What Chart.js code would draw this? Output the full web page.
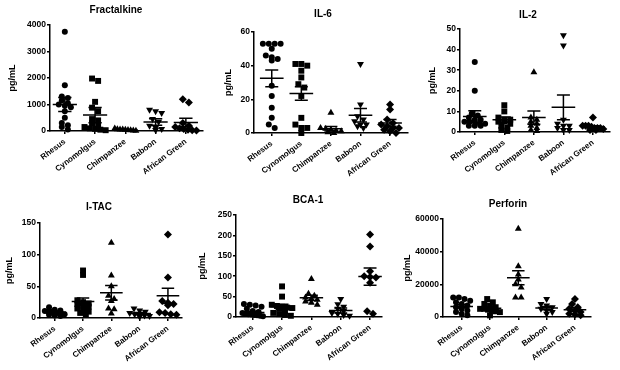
<!DOCTYPE html>
<html>
<head>
<meta charset="utf-8">
<script src="https://cdn.jsdelivr.net/npm/chart.js@4.4.1/dist/chart.umd.min.js"></script>
<style>
  html, body { margin: 0; padding: 0; background: #fff; width: 620px; height: 370px; overflow: hidden; position: relative; }
  canvas { position: absolute; }
</style>
</head>
<body>
<canvas id="c1"></canvas>
<canvas id="c2"></canvas>
<canvas id="c3"></canvas>
<canvas id="c4"></canvas>
<canvas id="c5"></canvas>
<canvas id="c6"></canvas>
<script>
const categories = ['Rhesus', 'Cynomolgus', 'Chimpanzee', 'Baboon', 'African Green'];

// valores por grupo (pg/mL)
const fractalkineValues = [
  [3750, 1730, 1300, 1250, 1150, 1050, 1000, 950, 900, 750, 500, 300, 220, 150, 60],
  [1980, 1890, 1100, 880, 750, 450, 400, 300, 200, 150, 100, 80, 50, 30],
  [90, 70, 60, 60, 50, 40, 30, 20, 10],
  [800, 750, 680, 450, 350, 200, 120, 80, 40],
  [1200, 1080, 300, 200, 150, 100, 80, 50, 30, 20]
];
const fractalkineMean = [1000, 600, 50, 340, 320];
const fractalkineSem = [260, 290, 10, 120, 160];

const il6Values = [
  [53, 53, 53, 53, 50, 46, 45, 44, 43, 28, 22, 15, 9, 5, 3],
  [41, 41, 40, 37, 33, 29, 27, 22, 9, 5, 3, 3, 0],
  [12, 3, 2.5, 2, 1.5, 1, 0.5, 0],
  [41, 17, 10, 8, 7, 5, 5, 4, 3],
  [17, 14, 8, 6, 5, 4, 3, 3, 2, 1, 0]
];
const il6Mean = [32.5, 23.5, 2.5, 10.5, 6];
const il6Sem = [5, 4, 1.3, 4, 2];

const il2Values = [
  [34, 20, 9, 8, 7, 6, 6, 5, 5, 5, 4, 4, 3, 3, 3],
  [13, 10, 7, 6, 6, 5, 5, 4, 3, 2, 1, 0.5],
  [29, 7, 6, 5, 4, 3, 2, 1, 0.5],
  [47, 42, 6, 4, 3, 3, 2, 1, 1],
  [7, 3, 3, 3, 2.5, 2, 2, 2, 1.5, 1, 1]
];
const il2Mean = [7.5, 6, 7, 12, 2.5];
const il2Sem = [2.8, 1.3, 3.2, 6, 0.5];

const itacValues = [
  [17, 13, 12, 11, 10, 10, 9, 8, 7, 6, 5, 4, 3],
  [75, 68, 28, 25, 23, 22, 20, 18, 15, 12, 10, 8, 6],
  [119, 67, 50, 35, 30, 27, 15, 14, 7],
  [15, 12, 10, 8, 6, 5, 4, 3, 2],
  [132, 64, 27, 24, 22, 20, 9, 8, 6, 5]
];
const itacMean = [9, 26, 40, 7, 35];
const itacSem = [1, 5.5, 11.5, 1.5, 12];

const bca1Values = [
  [32, 30, 28, 25, 20, 15, 12, 10, 8, 7, 6, 5, 4, 3, 2],
  [75, 50, 30, 27, 25, 23, 22, 20, 15, 10, 7, 5, 3],
  [93, 57, 52, 48, 45, 42, 38, 35, 30],
  [44, 31, 25, 20, 15, 10, 8, 5, 3],
  [202, 173, 112, 100, 98, 97, 84, 14, 8]
];
const bca1Mean = [11, 25, 47, 16, 99];
const bca1Sem = [3, 6, 6.5, 6, 21];

const perforinValues = [
  [12000, 12000, 11000, 10000, 9000, 8000, 7000, 6000, 5000, 4000, 3000, 2000, 1000],
  [11000, 9000, 8000, 7000, 6000, 5000, 5000, 4500, 4000, 3500, 3000, 1000],
  [54000, 31000, 26000, 23000, 20000, 18000, 12000, 12000],
  [11000, 8000, 7000, 6000, 5000, 4000, 3000, 2000],
  [11000, 8000, 6000, 5000, 4000, 3000, 2000, 1500, 1000]
];
const perforinMean = [6500, 5300, 24000, 5500, 4500];
const perforinSem = [1000, 800, 4300, 1000, 1100];

// símbolos por especie
const markerStyles = ['circle', 'rect', 'triangle', 'triangle', 'rectRot'];
const markerRotation = [0, 0, 0, 180, 0];
const markerRadius = [3, 4.2, 4, 4, 4];

Chart.defaults.font.family = "'Liberation Sans', Arial, sans-serif";
Chart.defaults.color = '#000';

// box = [left, top, width, height] del canvas en la página
const panels = [
  { id: 'c1', title: 'Fractalkine', values: fractalkineValues, mean: fractalkineMean, sem: fractalkineSem,
    yMax: 4000, yStep: 1000, box: [7, 2, 200, 184], padTop: 23, yWidth: 43, xHeight: 55, titleX: 116, titleY: 10, xMin: -0.49, xMax: 4.56 },
  { id: 'c2', title: 'IL-6', values: il6Values, mean: il6Mean, sem: il6Sem,
    yMax: 60, yStep: 20, box: [223, 4, 189, 184], padTop: 28, yWidth: 31, xHeight: 55, titleX: 323, titleY: 14, xMin: -0.6, xMax: 4.6 },
  { id: 'c3', title: 'IL-2', values: il2Values, mean: il2Mean, sem: il2Sem,
    yMax: 50, yStep: 10, box: [427, 4, 187, 183], padTop: 25, yWidth: 33, xHeight: 55, titleX: 528, titleY: 15, xMin: -0.5, xMax: 4.57 },
  { id: 'c4', title: 'I-TAC', values: itacValues, mean: itacMean, sem: itacSem,
    yMax: 150, yStep: 50, box: [4, 198, 182, 170], padTop: 25, yWidth: 36, xHeight: 50, titleX: 99, titleY: 207, xMin: -0.52, xMax: 4.49 },
  { id: 'c5', title: 'BCA-1', values: bca1Values, mean: bca1Mean, sem: bca1Sem,
    yMax: 250, yStep: 50, box: [197, 192, 189, 177], padTop: 23, yWidth: 39, xHeight: 52, titleX: 308, titleY: 200, xMin: -0.57, xMax: 4.4 },
  { id: 'c6', title: 'Perforin', values: perforinValues, mean: perforinMean, sem: perforinSem,
    yMax: 60000, yStep: 20000, box: [402, 195, 193, 174], padTop: 24, yWidth: 41, xHeight: 52, titleX: 508, titleY: 204, xMin: -0.66, xMax: 4.56 }
];

// título de cada panel
const tituloPanel = {
  id: 'tituloPanel',
  afterDraw(chart, args, opts) {
    const ctx = chart.ctx;
    ctx.save();
    ctx.font = "bold 10px 'Liberation Sans', Arial, sans-serif";
    ctx.fillStyle = '#000';
    ctx.textAlign = 'center';
    ctx.textBaseline = 'middle';
    ctx.fillText(opts.text, opts.x, opts.y);
    ctx.restore();
  }
};

// reparte horizontalmente los puntos con valores parecidos (como un dot plot)
function repartirPuntos(valores, indice, yMax) {
  const ordenados = [...valores].sort((a, b) => b - a);
  const cerca = yMax * 0.035;
  const puntos = [];
  let k = 0;
  while (k < ordenados.length) {
    let j = k;
    while (j + 1 < ordenados.length && ordenados[k] - ordenados[j + 1] <= cerca) j++;
    const n = j - k + 1;
    const paso = n > 1 ? Math.min(0.2, 0.7 / (n - 1)) : 0;
    for (let m = 0; m < n; m++) {
      puntos.push({ x: indice + (m - (n - 1) / 2) * paso, y: ordenados[k + m] });
    }
    k = j + 1;
  }
  return puntos;
}

// media +- SEM
function lineasResumen(media, sem) {
  const pts = [];
  media.forEach((m, i) => {
    const s = sem[i];
    pts.push({ x: i - 0.4, y: m }, { x: i + 0.4, y: m }, { x: i, y: null });
    pts.push({ x: i, y: m - s }, { x: i, y: m + s }, { x: i, y: null });
    pts.push({ x: i - 0.22, y: m + s }, { x: i + 0.22, y: m + s }, { x: i, y: null });
    pts.push({ x: i - 0.22, y: m - s }, { x: i + 0.22, y: m - s }, { x: i, y: null });
  });
  return pts;
}

panels.forEach(p => {
  const canvas = document.getElementById(p.id);
  canvas.width = p.box[2];
  canvas.height = p.box[3];
  canvas.style.left = p.box[0] + 'px';
  canvas.style.top = p.box[1] + 'px';

  const datasets = [{
    label: 'media',
    data: lineasResumen(p.mean, p.sem),
    showLine: true,
    borderColor: '#000',
    borderWidth: 1.5,
    pointRadius: 0,
    spanGaps: false,
    clip: false
  }];
  p.values.forEach((grupo, i) => {
    datasets.push({
      label: categories[i],
      data: repartirPuntos(grupo, i, p.yMax),
      pointStyle: markerStyles[i],
      rotation: markerRotation[i],
      pointRadius: markerRadius[i],
      backgroundColor: '#000',
      borderColor: '#000',
      borderWidth: 0,
      clip: false
    });
  });

  new Chart(canvas, {
    type: 'scatter',
    data: { datasets },
    plugins: [tituloPanel],
    options: {
      responsive: false,
      animation: false,
      events: [],
      layout: { padding: { left: 0, top: p.padTop, right: 2, bottom: 0 } },
      plugins: {
        legend: { display: false },
        tooltip: { enabled: false },
        title: { display: false },
        tituloPanel: { text: p.title, x: p.titleX - p.box[0], y: p.titleY - p.box[1] }
      },
      scales: {
        x: {
          type: 'linear',
          min: p.xMin,
          max: p.xMax,
          afterBuildTicks: s => { s.ticks = categories.map((c, i) => ({ value: i })); },
          afterFit: s => { s.height = p.xHeight; s.paddingLeft = 0; s.paddingRight = 0; },
          ticks: {
            autoSkip: false,
            minRotation: 37,
            maxRotation: 37,
            padding: 3,
            color: '#000',
            font: { size: 8, weight: 'bold' },
            callback: v => categories[v]
          },
          grid: { drawOnChartArea: false, drawTicks: true, tickLength: 3, color: '#000', lineWidth: 1.5 },
          border: { display: true, color: '#000', width: 1.5 }
        },
        y: {
          min: 0,
          max: p.yMax,
          afterFit: s => { s.width = p.yWidth; s.paddingTop = 0; s.paddingBottom = 0; },
          ticks: { stepSize: p.yStep, padding: 1, color: '#000', font: { size: 8.5, weight: 'bold' }, callback: v => String(v) },
          grid: { drawOnChartArea: false, drawTicks: true, tickLength: 3, color: '#000', lineWidth: 1.5 },
          border: { display: true, color: '#000', width: 1.5 },
          title: { display: true, text: 'pg/mL', color: '#000', font: { size: 9, weight: 'bold' }, padding: 0 }
        }
      }
    }
  });
});
</script>
</body>
</html>
